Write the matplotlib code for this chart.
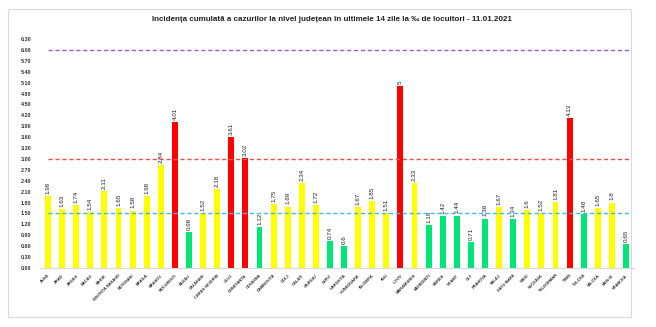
import matplotlib.pyplot as plt
from matplotlib.patches import Rectangle
import numpy as np

judete = ["ALBA", "ARAD", "ARGES", "BACAU", "BIHOR", "BISTRITA NASAUD", "BOTOSANI",
          "BRAILA", "BRASOV", "BUCURESTI", "BUZAU", "CALARASI", "CARAS SEVERIN", "CLUJ",
          "CONSTANTA", "COVASNA", "DAMBOVITA", "DOLJ", "GALATI", "GIURGIU", "GORJ",
          "HARGHITA", "HUNEDOARA", "IALOMITA", "IASI", "ILFOV", "MARAMURES", "MEHEDINTI",
          "MURES", "NEAMT", "OLT", "PRAHOVA", "SALAJ", "SATU MARE", "SIBIU", "SUCEAVA",
          "TELEORMAN", "TIMIS", "TULCEA", "VALCEA", "VASLUI", "VRANCEA"]
incidenta = [1.98, 1.63, 1.74, 1.54, 2.11, 1.65, 1.58, 1.98, 2.84, 4.01, 0.98, 1.52,
             2.18, 3.61, 3.02, 1.12, 1.75, 1.69, 2.34, 1.72, 0.74, 0.6, 1.67, 1.85,
             1.51, 5, 2.33, 1.19, 1.42, 1.44, 0.71, 1.36, 1.67, 1.34, 1.6, 1.52, 1.81,
             4.13, 1.48, 1.65, 1.8, 0.65]
praguri = [6.0, 3.0, 1.5]
culori_prag = ["#9B59D0", "#F24A4A", "#3FB8E8"]

plt.rcParams['font.family'] = ['Liberation Sans', 'DejaVu Sans']

fig = plt.figure(figsize=(6.56, 3.27), dpi=100)
fig.patches.append(Rectangle((8 / 656, 10 / 327), 623 / 656, 308 / 327, transform=fig.transFigure,
                             fill=False, edgecolor="#d9d9d9", linewidth=0.8))
ax = fig.add_axes([40 / 656, 59 / 327, 594 / 656, 229 / 327])

def culoare(v):
    if v < 1.5:
        return "#00E676"
    if v < 3:
        return "#FFFF00"
    return "#FF0000"

x = np.arange(len(judete))
ax.bar(x, incidenta, width=0.42, color=[culoare(v) for v in incidenta], zorder=2)

for xi, v in zip(x, incidenta):
    ax.text(xi, v + 0.06, f"{v:g}", rotation=90, ha="center", va="bottom",
            fontsize=4.5, color="#222222")

for p, c in zip(praguri, culori_prag):
    ax.plot([0, len(judete) - 0.7], [p, p], color=c, linestyle=(0, (3, 2)), linewidth=1.0, zorder=3)

ax.set_xlim(-0.57, len(judete) - 0.43)
ax.set_ylim(0, 6.3)
ax.set_yticks(np.arange(0, 6.31, 0.3))
ax.set_yticklabels([f"{t:.2f}" for t in np.arange(0, 6.31, 0.3)], fontsize=3.9, fontweight="bold",
                   color="#333333")
ax.set_xticks(x)
ax.set_xticklabels(judete, rotation=45, ha="right", rotation_mode="anchor", fontsize=2.9,
                   fontweight="bold", color="#333333")
ax.tick_params(length=0, pad=6)
ax.tick_params(axis="x", pad=4)
for s in ["top", "right", "left"]:
    ax.spines[s].set_visible(False)
ax.spines["bottom"].set_color("#d9d9d9")
ax.spines["bottom"].set_linewidth(0.8)

fig.text(0.506, 0.939, "Incidența cumulată a cazurilor la nivel județean în ultimele 14 zile la ‰ de locuitori - 11.01.2021",
         ha="center", va="center", fontsize=5.8, fontweight="bold", color="#222222")

fig.savefig("out.png", dpi=100)
